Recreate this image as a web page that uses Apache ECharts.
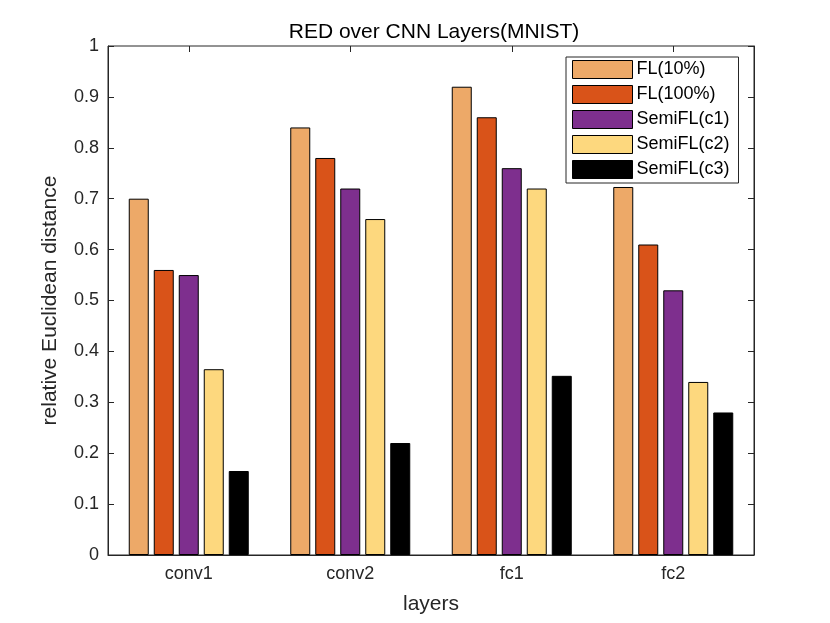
<!DOCTYPE html>
<html><head><meta charset="utf-8">
<script src="https://cdn.jsdelivr.net/npm/echarts@6/dist/echarts.min.js"></script>
<style>html,body{margin:0;padding:0;background:#fff}#c{width:830px;height:623px}</style>
</head><body><div id="c"></div>
<script>
const categories = ['conv1', 'conv2', 'fc1', 'fc2'];
const seriesNames = ['FL(10%)', 'FL(100%)', 'SemiFL(c1)', 'SemiFL(c2)', 'SemiFL(c3)'];
const fl10 = [0.70, 0.84, 0.92, 0.723];
const fl100 = [0.56, 0.78, 0.86, 0.61];
const semiC1 = [0.55, 0.72, 0.76, 0.52];
const semiC2 = [0.365, 0.66, 0.72, 0.34];
const semiC3 = [0.165, 0.22, 0.352, 0.28];
const yTicks = [0, 0.1, 0.2, 0.3, 0.4, 0.5, 0.6, 0.7, 0.8, 0.9, 1];
const colors = ['#EDA968', '#D95319', '#7E2F8E', '#FDD87E', '#000000'];
const values = [fl10, fl100, semiC1, semiC2, semiC3];

const FONT = 'Liberation Sans, Arial, Helvetica, sans-serif';
const chart = echarts.init(document.getElementById('c'), null, {renderer: 'canvas'});
const axisCol = '#262626';
const barSeries = seriesNames.map((n, i) => ({
  name: n, type: 'bar', data: values[i], barWidth: 20, barGap: '25%',
  itemStyle: {color: colors[i], borderColor: '#000', borderWidth: 1}
}));
chart.setOption({
  animation: false,
  backgroundColor: '#fff',
  textStyle: {fontFamily: FONT},
  title: {text: 'RED over CNN Layers(MNIST)', left: 429, top: 17, textAlign: 'center',
    textStyle: {fontSize: 21, fontWeight: 'normal', color: '#000', fontFamily: FONT}},
  grid: {left: 108, right: 76, top: 46, bottom: 68, show: true, borderColor: axisCol, borderWidth: 1},
  legend: {
    orient: 'vertical', left: 566, top: 57, itemWidth: 60, itemHeight: 18, itemGap: 6,
    icon: 'rect',
    backgroundColor: '#fff', borderColor: axisCol, borderWidth: 1, padding: [3, 9, 4, 6],
    textStyle: {fontSize: 18, color: '#000', fontFamily: FONT, padding: [0, 0, 0, -1]},
    data: seriesNames.map(n => ({name: n, itemStyle: {borderColor: '#000', borderWidth: 1}}))
  },
  xAxis: [{
    type: 'category', data: categories, position: 'bottom',
    name: 'layers', nameLocation: 'middle', nameGap: 39,
    nameTextStyle: {fontSize: 21, color: '#262626', fontFamily: FONT},
    axisLine: {onZero: false, lineStyle: {color: axisCol}},
    axisTick: {inside: true, alignWithLabel: true, length: 6, lineStyle: {color: axisCol}},
    axisLabel: {fontSize: 18, color: '#262626', margin: 10, fontFamily: FONT}
  }],
  yAxis: [{
    type: 'value', min: 0, max: 1, interval: 0.1,
    name: 'relative Euclidean distance', nameLocation: 'middle', nameGap: 47,
    nameTextStyle: {fontSize: 21, color: '#262626', fontFamily: FONT},
    axisLine: {show: true, onZero: false, lineStyle: {color: axisCol}},
    axisTick: {show: true, inside: true, length: 6, lineStyle: {color: axisCol}},
    splitLine: {show: false},
    axisLabel: {fontSize: 18, color: '#262626', margin: 9, fontFamily: FONT,
      formatter: v => { const t = yTicks.find(x => Math.abs(x - v) < 1e-9); return t === undefined ? '' : String(+t.toFixed(1)); }}
  }, {
    type: 'value', min: 0, max: 1, interval: 0.1, position: 'right',
    axisLine: {show: true, onZero: false, lineStyle: {color: axisCol}},
    axisTick: {show: true, inside: true, length: 6, lineStyle: {color: axisCol}},
    splitLine: {show: false}, axisLabel: {show: false}
  }],
  series: barSeries
});
// top mirror ticks at category centres, positioned through the library's own scales
const topY = chart.convertToPixel({yAxisIndex: 0}, 1);
chart.setOption({
  graphic: categories.map(c => {
    const x = Math.round(chart.convertToPixel({xAxisIndex: 0}, c)) + 0.5;
    return {type: 'line', silent: true, z: 100,
      shape: {x1: x, y1: topY, x2: x, y2: topY + 6},
      style: {stroke: axisCol, lineWidth: 1}};
  })
});
</script></body></html>
